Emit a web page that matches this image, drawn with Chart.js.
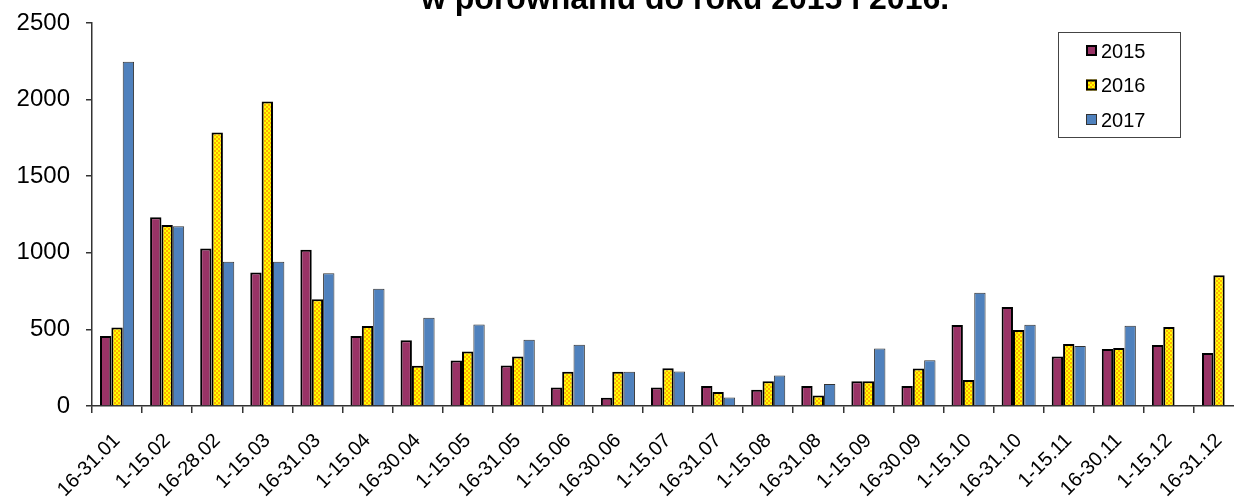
<!DOCTYPE html>
<html lang="pl">
<head>
<meta charset="utf-8">
<title>Porównanie 2015-2017</title>
<script src="https://cdn.jsdelivr.net/npm/chart.js@4/dist/chart.umd.min.js"></script>
<style>
  html, body { margin: 0; padding: 0; background: #fff; }
  #frame { position: relative; width: 1234px; height: 504px; overflow: hidden; background: #fff; }
  #title {
    position: absolute; left: 421px; top: -17px;
    font: bold 32px "Liberation Sans", Arial, sans-serif;
    line-height: 31px; white-space: nowrap; color: #000;
  }
  #chart { position: absolute; left: 0; top: 0; }
</style>
</head>
<body>
<div id="frame">
  <canvas id="chart" width="1252" height="504"></canvas>
  <div id="title">w porównaniu do roku 2015 i 2016.</div>
</div>
<script>
const categories = [
  "16-31.01", "1-15.02", "16-28.02", "1-15.03", "16-31.03", "1-15.04",
  "16-30.04", "1-15.05", "16-31.05", "1-15.06", "16-30.06", "1-15.07",
  "16-31.07", "1-15.08", "16-31.08", "1-15.09", "16-30.09", "1-15.10",
  "16-31.10", "1-15.11", "16-30.11", "1-15.12", "16-31.12"
];

const values2015 = [
  457, 1232, 1028, 872, 1020, 457, 429, 297, 264, 121, 54, 121,
  130, 106, 130, 162, 130, 528, 647, 323, 372, 398, 346
];

const values2016 = [
  513, 1182, 1786, 1987, 697, 522, 262, 355, 323, 223, 223, 247,
  91, 162, 69, 162, 245, 169, 496, 405, 379, 515, 853
];

const values2017 = [
  2247, 1173, 942, 942, 866, 766, 576, 532, 433, 400, 223, 225,
  56, 199, 143, 375, 299, 740, 530, 392, 524, null, null
];

const yTicks = [0, 500, 1000, 1500, 2000, 2500];

const FONT = "Liberation Sans";

// yellow / orange checker used for the 2016 bars
function makeCheckerPattern() {
  const tile = document.createElement("canvas");
  tile.width = 4;
  tile.height = 4;
  const t = tile.getContext("2d");
  t.fillStyle = "#FFFF00";
  t.fillRect(0, 0, 4, 4);
  t.fillStyle = "#FFB000";
  t.fillRect(0, 0, 2, 2);
  t.fillRect(2, 2, 2, 2);
  return t.createPattern(tile, "repeat");
}

const checker = makeCheckerPattern();

// legend box drawn inside the plot, top right
const boxLegend = {
  id: "boxLegend",
  afterDraw(chart) {
    const ctx = chart.ctx;
    const x0 = 1058, y0 = 32, w = 122, h = 105;
    ctx.save();
    ctx.fillStyle = "#fff";
    ctx.fillRect(x0, y0, w, h);
    ctx.strokeStyle = "#444";
    ctx.lineWidth = 1;
    ctx.strokeRect(x0 + 0.5, y0 + 0.5, w, h);

    chart.data.datasets.forEach((ds, i) => {
      const cy = 51 + i * 34.5;
      const bw = ds.borderWidth;
      ctx.fillStyle = ds.backgroundColor;
      ctx.fillRect(1086, cy - 6, 11, 11);
      ctx.strokeStyle = ds.borderColor;
      ctx.lineWidth = bw;
      ctx.strokeRect(1086 + bw / 2, cy - 6 + bw / 2, 11 - bw, 11 - bw);
      ctx.fillStyle = "#000";
      ctx.font = "20px " + FONT;
      ctx.textBaseline = "middle";
      ctx.textAlign = "left";
      ctx.fillText(ds.label, 1101, cy + 1);
    });
    ctx.restore();
  },
};

new Chart(document.getElementById("chart"), {
  type: "bar",
  data: {
    labels: categories,
    datasets: [
      {
        label: "2015",
        data: values2015,
        backgroundColor: "#993366",
        borderColor: "#000",
        borderWidth: 2,
      },
      {
        label: "2016",
        data: values2016,
        backgroundColor: checker,
        borderColor: "#000",
        borderWidth: 2,
      },
      {
        label: "2017",
        data: values2017,
        backgroundColor: "#4F81BD",
        borderColor: "#333",
        borderWidth: 1,
      },
    ],
  },
  options: {
    responsive: false,
    animation: false,
    devicePixelRatio: 1,
    layout: { padding: { top: 23, right: 1, left: 0, bottom: 0 } },
    datasets: {
      bar: { barPercentage: 1, categoryPercentage: 0.68 },
    },
    plugins: {
      legend: { display: false },
      title: { display: false },
      tooltip: { enabled: false },
    },
    scales: {
      x: {
        type: "category",
        offset: true,
        afterFit(scale) {
          scale.height = 98;
        },
        grid: {
          offset: true,
          drawOnChartArea: false,
          drawTicks: true,
          tickLength: 7,
          color: "#333",
          lineWidth: 1.5,
        },
        border: { color: "#333", width: 1.5 },
        ticks: {
          autoSkip: false,
          minRotation: 45,
          maxRotation: 45,
          padding: 16,
          color: "#000",
          font: { family: FONT, size: 20 },
        },
      },
      y: {
        min: 0,
        max: 2500,
        afterFit(scale) {
          scale.width = 92;
          scale.paddingTop = 0;
          scale.paddingBottom = 0;
        },
        afterBuildTicks(scale) {
          scale.ticks = yTicks.map((v) => ({ value: v }));
        },
        grid: {
          drawOnChartArea: false,
          drawTicks: true,
          tickLength: 6,
          color: "#333",
          lineWidth: 1.5,
        },
        border: { color: "#333", width: 1.5 },
        ticks: {
          padding: 16,
          color: "#000",
          font: { family: FONT, size: 24 },
          callback: (value) => String(value),
        },
      },
    },
  },
  plugins: [boxLegend],
});
</script>
</body>
</html>
